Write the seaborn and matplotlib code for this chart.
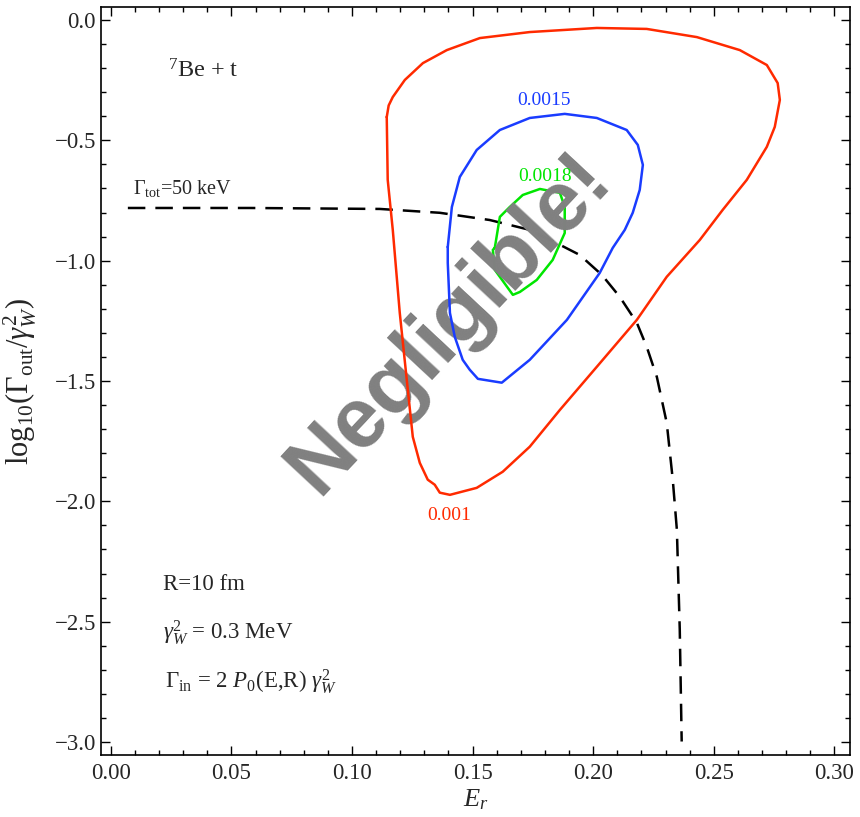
import numpy as np
import pandas as pd
import matplotlib
matplotlib.use("Agg")
import matplotlib.pyplot as plt
from matplotlib.ticker import MultipleLocator
import seaborn as sns

# Contour of the reaction rate at 0.001
red_x = [0.1144, 0.1152, 0.1169, 0.1219, 0.1294, 0.1393, 0.1530, 0.1737, 0.2015, 0.2222, 0.2430,
         0.2608, 0.2720, 0.2765, 0.2774, 0.2753, 0.2720, 0.2637, 0.2537, 0.2442, 0.2305,
         0.2181, 0.2015, 0.1862, 0.1737, 0.1625, 0.1517, 0.1406, 0.1364, 0.1343, 0.1314,
         0.1281, 0.1252, 0.1227, 0.1198, 0.1169, 0.1148, 0.1144]
red_y = [-0.403, -0.355, -0.320, -0.249, -0.179, -0.125, -0.075, -0.050, -0.033, -0.037, -0.071,
         -0.125, -0.187, -0.262, -0.332, -0.444, -0.527, -0.664, -0.789, -0.914, -1.067,
         -1.246, -1.441, -1.620, -1.773, -1.877, -1.944, -1.973, -1.964, -1.931, -1.910,
         -1.840, -1.732, -1.495, -1.217, -0.872, -0.664, -0.403]

# Contour at 0.0015
blue_x = [0.1397, 0.1414, 0.1447, 0.1517, 0.1613, 0.1737, 0.1882, 0.2015, 0.2139, 0.2185,
          0.2206, 0.2193, 0.2164, 0.2131, 0.2081, 0.2027, 0.1891, 0.1737, 0.1621, 0.1522,
          0.1488, 0.1459, 0.1426, 0.1406, 0.1397, 0.1397]
blue_y = [-0.943, -0.777, -0.652, -0.540, -0.457, -0.407, -0.390, -0.407, -0.457, -0.519,
          -0.602, -0.706, -0.801, -0.872, -0.947, -1.051, -1.246, -1.412, -1.507, -1.491,
          -1.453, -1.412, -1.316, -1.217, -1.009, -0.943]

# Contour at 0.0018
green_x = [0.1592, 0.1613, 0.1654, 0.1708, 0.1779, 0.1862, 0.1882, 0.1882, 0.1832, 0.1766,
           0.1696, 0.1667, 0.1592, 0.1584, 0.1592]
green_y = [-0.947, -0.818, -0.777, -0.727, -0.702, -0.718, -0.777, -0.885, -0.997, -1.080,
           -1.130, -1.142, -1.038, -0.955, -0.947]

# Total width Gamma_tot = 50 keV
gtot_x = [0.00705, 0.0576, 0.1115, 0.1364, 0.1571, 0.1737, 0.1862, 0.1944, 0.2036, 0.2110,
          0.2181, 0.2222, 0.2264, 0.2305, 0.2330, 0.2347, 0.2359, 0.2367]
gtot_y = [-0.781, -0.781, -0.785, -0.801, -0.831, -0.872, -0.934, -0.976, -1.059, -1.150,
          -1.258, -1.358, -1.483, -1.674, -1.910, -2.118, -2.533, -2.998]

levels = ["0.001", "0.0015", "0.0018"]
level_colors = ["#ff2a00", "#1a3cff", "#00e600"]
level_z = [3, 3, 1.5]
level_label_pos = [(0.1401, -2.06), (0.1795, -0.336), (0.1800, -0.652)]

x_ticks = [0.00, 0.05, 0.10, 0.15, 0.20, 0.25, 0.30]
y_ticks = [0.0, -0.5, -1.0, -1.5, -2.0, -2.5, -3.0]

sns.set_style("ticks")
plt.rcParams["font.family"] = ["Liberation Serif", "DejaVu Serif"]
plt.rcParams["mathtext.fontset"] = "custom"
plt.rcParams["mathtext.rm"] = "Liberation Serif"
plt.rcParams["mathtext.it"] = "Liberation Serif:italic"
plt.rcParams["mathtext.bf"] = "Liberation Serif:bold"

fig = plt.figure(figsize=(8.6, 8.17), dpi=100)
ax = fig.add_axes([0.1174, 0.0759, 0.8710, 0.9155])

# Grey watermark: above the green contour and the dashed curve, below red and blue
ax.text(0.1405, -1.262, "Negligible!", color="#808080", fontsize=61,
        fontweight="bold", family="Liberation Sans", rotation=47,
        ha="center", va="center", zorder=2, rotation_mode="anchor")

for xs, ys, lv, col, z in zip([red_x, blue_x, green_x], [red_y, blue_y, green_y],
                              levels, level_colors, level_z):
    df = pd.DataFrame({"E": xs, "G": ys})
    sns.lineplot(data=df, x="E", y="G", color=col, sort=False, estimator=None,
                 linewidth=1.8, ax=ax, zorder=z)

gtot = pd.DataFrame({"E": gtot_x, "G": gtot_y})
sns.lineplot(data=gtot, x="E", y="G", color="black", sort=False, estimator=None,
             linewidth=1.8, ax=ax, zorder=1.4)
ax.lines[-1].set_dashes((7, 4))

for lv, col, (lx, ly) in zip(levels, level_colors, level_label_pos):
    ax.text(lx, ly, lv, color=col, fontsize=14, ha="center", va="center", zorder=6)

ax.text(0.0091, -0.698, r"$\Gamma_{\rm tot}$=50 keV", fontsize=14.5, ha="left", va="center")
ax.text(0.0236, -0.212, r"$^{7}$Be + t", fontsize=17.5, ha="left", va="center")
ax.text(0.0216, -2.346, "R=10 fm", fontsize=16.5, ha="left", va="center")
ax.text(0.0216, -2.546, r"$\gamma_W^2$ = 0.3 MeV", fontsize=16.5, ha="left", va="center")
ax.text(0.0226, -2.749, r"$\Gamma_{\rm in}$ = 2 $P_0$(E,R) $\gamma_W^2$", fontsize=16.5,
        ha="left", va="center")

ax.set_xlim(-0.0041, 0.3065)
ax.set_ylim(-3.054, 0.054)
ax.set_xticks(x_ticks)
ax.set_yticks(y_ticks)
ax.set_xticklabels([f"{t:.2f}" for t in x_ticks])
ax.set_yticklabels([f"{t:.1f}".replace("-", "\u2212") for t in y_ticks])
ax.xaxis.set_minor_locator(MultipleLocator(0.01))
ax.yaxis.set_minor_locator(MultipleLocator(0.1))
ax.tick_params(which="both", direction="in", top=True, right=True, labelsize=16.5,
               color="black", width=1)
ax.tick_params(which="major", length=6.5)
ax.tick_params(which="minor", length=3.5)
ax.tick_params(axis="x", pad=6)
for s in ax.spines.values():
    s.set_visible(True)
    s.set_linewidth(1.2)
    s.set_color("black")

ax.set_xlabel(r"$E_r$", fontsize=19, labelpad=2)
ax.set_ylabel(r"log$_{10}$($\Gamma_{\rm out}/\gamma_W^2$)", fontsize=22)
ax.yaxis.set_label_coords(-0.083, 0.5)

fig.savefig("out.png", dpi=100, facecolor="white")
